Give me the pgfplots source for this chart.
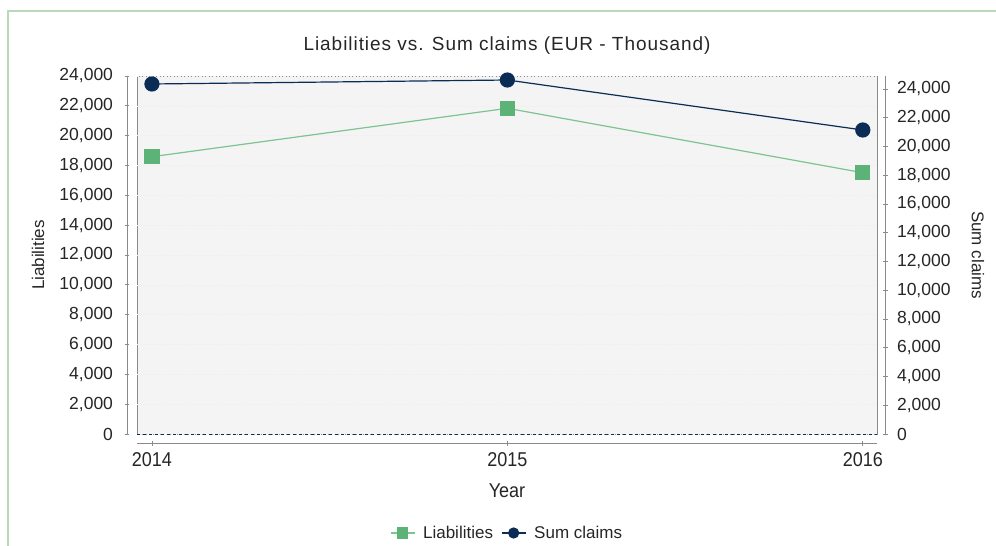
\documentclass[border=0pt]{standalone}
\usepackage{pgfplots}
\pgfplotsset{compat=1.18}
\usepackage{fontspec}
\setmainfont{Liberation Sans}
\newfontfamily\narrowfont{Liberation Sans}[FakeStretch=0.9]
\newfontfamily\titlefont{Liberation Sans}[LetterSpace=5]
\definecolor{lgreen}{HTML}{5DB377}
\definecolor{lline}{HTML}{7CC490}
\definecolor{navy}{HTML}{0B2D55}
\definecolor{framec}{HTML}{B9DAB9}
\definecolor{boxbg}{HTML}{F4F4F4}
\definecolor{axgray}{HTML}{8A8A8A}
\definecolor{txt}{HTML}{262626}
\pgfplotsset{
  myaxis/.style={
    at={(137pt,-434pt)}, anchor=south west, scale only axis,
    width=740pt, height=358pt,
    xmin=2013.958, xmax=2016.04,
    font=\fontsize{17}{19}\selectfont,
    /pgf/number format/assume math mode=true,
    scaled y ticks=false,
    yticklabel style={font=\fontsize{17.5}{19}\selectfont,
      /pgf/number format/fixed, /pgf/number format/1000 sep={,},
      /pgf/number format/assume math mode=true},
    tick align=outside, major tick length=5pt,
    tick style={axgray, line width=0.8pt},
    ytick={0,2000,...,24000},
    every tick label/.append style={txt},
  }
}
\begin{document}
\begin{tikzpicture}
\useasboundingbox (0pt,0pt) rectangle (996pt,-546pt);
\draw[framec, line width=1.5pt] (8pt,-560pt) -- (8pt,-11pt) -- (1010pt,-11pt);
\begin{axis}[myaxis,
  ymin=0, ymax=24000,
  axis background/.style={fill=boxbg, draw=axgray, line width=1pt},
  axis x line=bottom, axis y line=left,
  axis line style={-, axgray, line width=1pt},
  every outer x axis line/.append style={-},
  every outer y axis line/.append style={-},
  axis x line shift=9pt, axis y line shift=10pt,
  xtick={2014,2015,2016}, xticklabels={2014,2015,2016},
  xticklabel style={font=\narrowfont\fontsize{20}{22}\selectfont, yshift=-3pt},
  yticklabel style={xshift=-8pt},
  ymajorgrids, major grid style={densely dotted, gray!12},
  every axis title shift=0pt,
  title={Liabilities vs. Sum claims (EUR - Thousand)},
  title style={at={(0.5,1.0838)}, anchor=center, font=\titlefont\fontsize{19}{21}\selectfont, txt},
  xlabel={Year}, xlabel style={at={(0.5,-0.159)}, anchor=center, font=\narrowfont\fontsize{20}{22}\selectfont, txt},
  ylabel={Liabilities}, ylabel style={at={(-0.1338,0.5)}, anchor=center, txt},
  legend style={at={(0.5,-0.2765)}, anchor=center, draw=none, fill=none,
    legend columns=2, font=\fontsize{17}{19}\selectfont, text=txt,
    /tikz/every odd column/.append style={column sep=6pt},
    /tikz/every even column/.append style={column sep=6pt}},
  legend image code/.code={\draw[mark repeat=2,mark phase=2] plot coordinates {(0pt,0pt)(12pt,0pt)(24pt,0pt)};},
  legend image post style={mark size=5pt},
]
\addplot[forget plot, navy, dashed, line width=0.8pt] coordinates {(2013.958,0) (2016.04,0)};
\addplot[lline, line width=1.2pt, mark=square*, mark size=7pt, mark options={lgreen, fill=lgreen}]
  coordinates {(2014,18590) (2015,21835) (2016,17517)};
\addlegendentry{Liabilities}
\addlegendimage{navy, line width=1.2pt, mark=*, mark options={navy, fill=navy}}
\addlegendentry{Sum claims}
\end{axis}
\begin{axis}[myaxis,
  ymin=0, ymax=24904,
  axis x line=none, axis y line=right,
  axis line style={-, axgray, line width=1pt},
  every outer y axis line/.append style={-},
  axis y line shift=8pt,
  yticklabel style={xshift=6pt},
  ylabel={Sum claims}, ylabel style={at={(1.1365,0.5)}, anchor=center, rotate=180, txt},
]
\addplot[navy, line width=1.2pt, mark=*, mark size=7pt, mark options={navy, fill=navy}]
  coordinates {(2014,24348) (2015,24626) (2016,21148)};
\end{axis}
\end{tikzpicture}
\end{document}
